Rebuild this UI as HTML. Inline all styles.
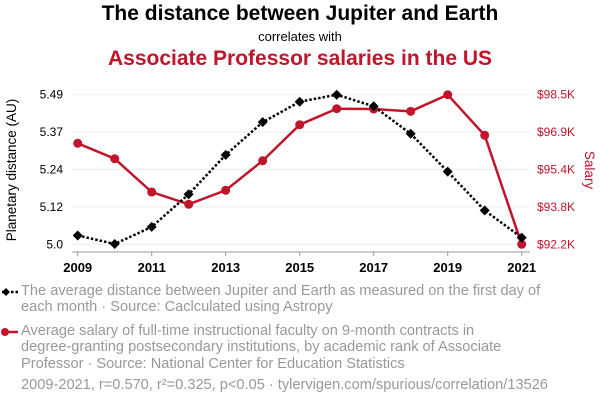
<!DOCTYPE html>
<html><head><meta charset="utf-8"><style>
body{margin:0;width:600px;height:408px;background:#fff;overflow:hidden;font-family:"Liberation Sans",sans-serif}
.t{position:absolute;left:0;width:600px;text-align:center}
.lg{position:absolute;left:21px;width:540px;color:#999;font-size:14.6px;line-height:16.3px}
.nw{white-space:nowrap}
</style></head><body>
<div class="t" style="top:2px;font-size:21px;font-weight:bold;color:#000">The distance between Jupiter and Earth</div>
<div class="t" style="top:29px;font-size:13px;color:#000">correlates with</div>
<div class="t" style="top:47px;font-size:21px;font-weight:bold;color:#c0152a">Associate Professor salaries in the US</div>
<svg id="c" width="600" height="408" style="position:absolute;left:0;top:0"></svg>
<div class="lg" style="top:283px">The average distance between Jupiter and Earth as measured on the first day of each month · Source: Caclculated using Astropy</div>
<div class="lg" style="top:323px;width:510px">Average salary of full-time instructional faculty on <span class="nw">9-month</span> contracts in <span class="nw">degree-granting</span> postsecondary institutions, by academic rank of Associate Professor · Source: National Center for Education Statistics</div>
<div class="lg" style="top:377px;width:580px">2009-2021, r=0.570, r²=0.325, p&lt;0.05 · tylervigen.com/spurious/correlation/13526</div>
<script>
const years=[2009,2010,2011,2012,2013,2014,2015,2016,2017,2018,2019,2020,2021];
const distance=[5.029,5.001,5.057,5.164,5.293,5.400,5.467,5.490,5.452,5.362,5.238,5.111,5.022];
const salary=[96453,95805,94402,93884,94474,95720,97236,97910,97897,97800,98500,96790,92200];
const leftTicks=[5.0,5.12,5.24,5.37,5.49];
const rightTicks=["$92.2K","$93.8K","$95.4K","$96.9K","$98.5K"];
const xTicks=[2009,2011,2013,2015,2017,2019,2021];
const NS="http://www.w3.org/2000/svg",svg=document.getElementById('c');
const X=y=>77.7+(y-2009)*37;
const YL=v=>244.3-(v-5.0)/0.49*149.6;
const YR=v=>244.3-(v-92200)/6300*149.6;
function mk(t,a,p){const e=document.createElementNS(NS,t);for(const k in a)e.setAttribute(k,a[k]);(p||svg).appendChild(e);return e;}
leftTicks.forEach((v,i)=>{const y=244.3-i*149.6/4;
 const g=mk('line',{x1:72,x2:530,y1:y,y2:y,stroke:'#eee','stroke-width':1});
 
 const t=mk('text',{x:63,y:y+4,'text-anchor':'end','font-size':12,fill:'#000'});t.textContent=v===5?'5.0':v.toFixed(2).replace(/0$/,'');
 
 const r=mk('text',{x:537,y:y+4,'font-size':12,fill:'#c0152a'});r.textContent=rightTicks[i];
 
});
const ax=mk('line',{x1:72,x2:530,y1:252,y2:252,stroke:'#999'});
xTicks.forEach(yr=>{mk('line',{x1:X(yr),x2:X(yr),y1:252,y2:256,stroke:'#999'});
 const t=mk('text',{x:X(yr),y:272,'text-anchor':'middle','font-size':13,'font-weight':'bold',fill:'#000'});t.textContent=yr;
 });
const yl=mk('text',{transform:'translate(16,170) rotate(-90)','text-anchor':'middle','font-size':13.5,fill:'#000'});yl.textContent='Planetary distance (AU)';

const yr2=mk('text',{transform:'translate(585,170) rotate(90)','text-anchor':'middle','font-size':13.5,fill:'#c0152a'});yr2.textContent='Salary';

const rl=mk('polyline',{points:years.map((y,i)=>X(y)+','+YR(salary[i])).join(' '),fill:'none',stroke:'#c0152a','stroke-width':2.5});

years.forEach((y,i)=>{const c=mk('circle',{cx:X(y),cy:YR(salary[i]),r:4.5,fill:'#c0152a'});
 });
const bl=mk('polyline',{points:years.map((y,i)=>X(y)+','+YL(distance[i])).join(' '),fill:'none',stroke:'#000','stroke-width':2.5,'stroke-dasharray':'2.5,2'});

years.forEach((y,i)=>{const cx=X(y),cy=YL(distance[i]);const d=mk('polygon',{points:`${cx},${cy-5} ${cx+5},${cy} ${cx},${cy+5} ${cx-5},${cy}`,fill:'#000'});
 });
const lm1=mk('line',{x1:2,x2:18,y1:292,y2:292,stroke:'#000','stroke-width':2.5,'stroke-dasharray':'2.5,2'});

mk('polygon',{points:'6,288 10,292 6,296 2,292',fill:'#000'});
const lm2=mk('line',{x1:2,x2:18,y1:332,y2:332,stroke:'#c0152a','stroke-width':2.5});

mk('circle',{cx:5,cy:332,r:4,fill:'#c0152a'});
</script>
</body></html>
